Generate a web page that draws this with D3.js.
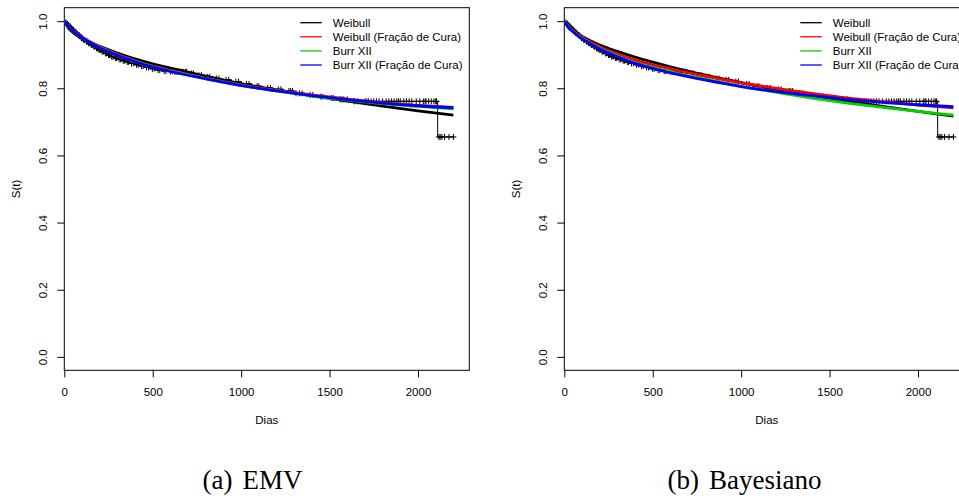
<!DOCTYPE html>
<html>
<head>
<meta charset="utf-8">
<script src="https://cdn.jsdelivr.net/npm/d3@7"></script>
<style>
  html, body { margin: 0; padding: 0; background: #fff; overflow: hidden; }
  svg { display: block; }
</style>
</head>
<body>
<svg id="chart" width="959" height="499"></svg>
<script>
// ---------- data ----------
const gridDays = [0, 25, 50, 100, 150, 200, 300, 400, 500, 600, 800, 1000, 1200, 1400, 1600, 1800, 2000, 2200];

// EMV fitted survival curves
const emvWeibull     = [1, 0.978, 0.966, 0.949, 0.936, 0.925, 0.905, 0.888, 0.873, 0.860, 0.836, 0.814, 0.795, 0.778, 0.762, 0.747, 0.733, 0.720];
const emvWeibullCure = [1, 0.983, 0.971, 0.953, 0.937, 0.924, 0.901, 0.882, 0.866, 0.853, 0.830, 0.810, 0.794, 0.780, 0.768, 0.757, 0.749, 0.743];
const emvBurr        = [1, 0.982, 0.970, 0.951, 0.936, 0.922, 0.899, 0.880, 0.864, 0.851, 0.829, 0.809, 0.792, 0.777, 0.765, 0.754, 0.746, 0.739];
const emvBurrCure    = [1, 0.982, 0.970, 0.951, 0.935, 0.921, 0.898, 0.879, 0.863, 0.850, 0.828, 0.808, 0.792, 0.778, 0.766, 0.756, 0.748, 0.742];

// Bayesian fitted survival curves
const bayWeibull     = [1, 0.980, 0.970, 0.954, 0.941, 0.929, 0.910, 0.893, 0.878, 0.864, 0.839, 0.817, 0.797, 0.779, 0.762, 0.746, 0.731, 0.717];
const bayWeibullCure = [1, 0.983, 0.971, 0.952, 0.937, 0.924, 0.902, 0.884, 0.870, 0.858, 0.836, 0.816, 0.800, 0.785, 0.771, 0.760, 0.750, 0.742];
const bayBurr        = [1, 0.981, 0.969, 0.949, 0.933, 0.919, 0.896, 0.876, 0.862, 0.849, 0.827, 0.806, 0.788, 0.771, 0.756, 0.743, 0.731, 0.720];
const bayBurrCure    = [1, 0.980, 0.968, 0.948, 0.932, 0.917, 0.894, 0.874, 0.859, 0.846, 0.824, 0.805, 0.790, 0.778, 0.767, 0.758, 0.751, 0.745];

// Kaplan-Meier estimate (event times and survival after each event)
const kmDays = [5, 12, 20, 28, 36, 45, 55, 64, 74, 85, 96, 108, 120, 133, 147, 160, 175, 190, 207, 224, 242, 260, 280, 300, 322, 345, 370, 396, 424, 452, 482, 515, 548, 582, 620, 700, 745, 790, 840, 890, 945, 1000, 1060, 1120, 1180, 1240, 1300, 1360, 1420, 1480, 1540, 1620, 2111];
const kmSurv = [0.996, 0.992, 0.988, 0.983, 0.979, 0.974, 0.969, 0.964, 0.959, 0.954, 0.949, 0.944, 0.939, 0.934, 0.929, 0.924, 0.919, 0.914, 0.909, 0.904, 0.899, 0.894, 0.890, 0.886, 0.882, 0.878, 0.874, 0.870, 0.866, 0.862, 0.858, 0.854, 0.851, 0.850, 0.849, 0.844, 0.839, 0.834, 0.829, 0.825, 0.820, 0.813, 0.806, 0.801, 0.797, 0.792, 0.785, 0.780, 0.775, 0.771, 0.767, 0.761, 0.655];
const kmEnd = 2205;
// censored times
const censorDays = [10, 18, 24, 33, 41, 47, 52, 60, 66, 70, 78, 84, 90, 98, 102, 110, 115, 126, 131, 138, 145, 152, 158, 168, 172, 182, 188, 196, 204, 214, 220, 232, 238, 250, 256, 268, 276, 290, 296, 310, 318, 333, 340, 356, 364, 380, 390, 408, 418, 437, 446, 465, 476, 498, 508, 530, 540, 565, 575, 600, 610, 625, 632, 640, 650, 656, 660, 666, 672, 685, 692, 720, 730, 760, 775, 810, 822, 860, 875, 915, 930, 970, 985, 1030, 1045, 1090, 1100, 1150, 1165, 1210, 1225, 1270, 1280, 1290, 1310, 1330, 1345, 1390, 1405, 1450, 1462, 1510, 1520, 1560, 1570, 1580, 1600, 1640, 1660, 1700, 1710, 1720, 1735, 1750, 1765, 1780, 1800, 1820, 1835, 1850, 1865, 1880, 1890, 1900, 1920, 1935, 1950, 1965, 1990, 2010, 2030, 2040, 2045, 2060, 2075, 2090, 2100, 2105, 2118, 2125, 2135, 2150, 2175, 2200];

const xTicks = [0, 500, 1000, 1500, 2000];
const yTicks = [0, 0.2, 0.4, 0.6, 0.8, 1.0];
const legendLabels = ["Weibull", "Weibull (Fração de Cura)", "Burr XII", "Burr XII (Fração de Cura)"];
const seriesColors = ["#000000", "#ff0000", "#00d000", "#0000ff"];
const panelCaptions = ["(a)", "(b)"];
const panelNames = ["EMV", "Bayesiano"];
const xLabel = "Dias";
const yLabel = "S(t)";

// ---------- drawing ----------
const sans = "'Liberation Sans', Arial, sans-serif";
const serif = "'Liberation Serif', 'Times New Roman', serif";
const svg = d3.select("#chart");
const plotW = 405, plotH = 362.6;
const panels = [
  { left: 64.3, series: [emvWeibull, emvWeibullCure, emvBurr, emvBurrCure] },
  { left: 564.3, series: [bayWeibull, bayWeibullCure, bayBurr, bayBurrCure] }
];
const plotTop = 7.7;

panels.forEach((p, pi) => {
  const g = svg.append("g").attr("transform", `translate(${p.left},${plotTop})`);
  const x = d3.scaleLinear().domain([0, 2290]).range([0, plotW]);
  const y = d3.scaleLinear().domain([-0.04, 1.04]).range([plotH, 0]);

  const clipId = "clip" + pi;
  g.append("clipPath").attr("id", clipId).append("rect")
    .attr("width", plotW).attr("height", plotH);

  // axes
  const xa = g.append("g").attr("transform", `translate(0,${plotH})`)
    .call(d3.axisBottom(x).tickValues(xTicks).tickFormat(d3.format("d")).tickSize(7).tickPadding(11).tickSizeOuter(0));
  xa.select(".domain").remove();
  xa.selectAll("line").attr("stroke", "#000");
  xa.selectAll("text").style("font-size", "11.5px").attr("fill", "#000").style("font-family", sans);

  const ya = g.append("g")
    .call(d3.axisLeft(y).tickValues(yTicks).tickFormat(d3.format(".1f")).tickSize(7).tickSizeOuter(0));
  ya.select(".domain").remove();
  ya.selectAll("line").attr("stroke", "#000");
  ya.selectAll("text")
    .attr("transform", "rotate(-90)")
    .attr("x", 0).attr("y", -17).attr("dy", "0")
    .style("text-anchor", "middle")
    .style("font-size", "11.5px").attr("fill", "#000").style("font-family", sans);

  // box
  g.append("rect").attr("width", plotW).attr("height", plotH)
    .attr("fill", "none").attr("stroke", "#000").attr("stroke-width", 1);

  // axis labels
  g.append("text").attr("x", plotW / 2).attr("y", 424 - plotTop)
    .attr("text-anchor", "middle").style("font-size", "11.5px").style("font-family", sans).text(xLabel);
  g.append("text").attr("transform", `translate(-44,${plotH / 2}) rotate(-90)`)
    .attr("text-anchor", "middle").style("font-size", "11.5px").style("font-family", sans).text(yLabel);

  const inner = g.append("g").attr("clip-path", `url(#${clipId})`);

  // KM step curve
  const kmPts = [[0, 1]].concat(kmDays.map((d, i) => [d, kmSurv[i]]));
  kmPts.push([kmEnd, kmSurv[kmSurv.length - 1]]);
  inner.append("path")
    .attr("d", d3.line().x(d => x(d[0])).y(d => y(d[1])).curve(d3.curveStepAfter)(kmPts))
    .attr("fill", "none").attr("stroke", "#000").attr("stroke-width", 1);

  // censor marks
  const survAt = t => {
    let s = 1;
    for (let i = 0; i < kmDays.length; i++) { if (kmDays[i] <= t) s = kmSurv[i]; }
    return s;
  };
  inner.selectAll("path.cens").data(censorDays).join("path")
    .attr("class", "cens")
    .attr("d", d => {
      const cx = x(d), cy = y(survAt(d)), h = 3;
      return `M${cx - h},${cy}H${cx + h}M${cx},${cy - h}V${cy + h}`;
    })
    .attr("stroke", "#000").attr("stroke-width", 1).attr("fill", "none");

  // fitted curves
  const line = d3.line().x((d, i) => x(gridDays[i])).y(d => y(d)).curve(d3.curveMonotoneX);
  p.series.forEach((vals, si) => {
    inner.append("path").attr("d", line(vals))
      .attr("fill", "none").attr("stroke", seriesColors[si]).attr("stroke-width", 2.8);
  });

  // legend
  const lg = g.append("g").attr("transform", `translate(236,${22.7 - plotTop})`);
  legendLabels.forEach((lab, i) => {
    const row = lg.append("g").attr("transform", `translate(0,${i * 14.1})`);
    row.append("line").attr("x1", 0).attr("x2", 21.5).attr("y1", 0).attr("y2", 0)
      .attr("stroke", seriesColors[i]).attr("stroke-width", 1.3);
    row.append("text").attr("x", 32.5).attr("y", 0).attr("dy", "0.35em")
      .style("font-size", "11.5px").style("font-family", sans).text(lab);
  });

  // caption
  const cx = pi === 0 ? 252.5 : 744.5;
  const cap = svg.append("text").attr("x", cx).attr("y", 489)
    .attr("text-anchor", "middle")
    .style("font-family", serif)
    .style("font-size", "27px");
  cap.append("tspan").text(panelCaptions[pi]);
  cap.append("tspan").attr("dx", 10).text(panelNames[pi]);
});
</script>
</body>
</html>
